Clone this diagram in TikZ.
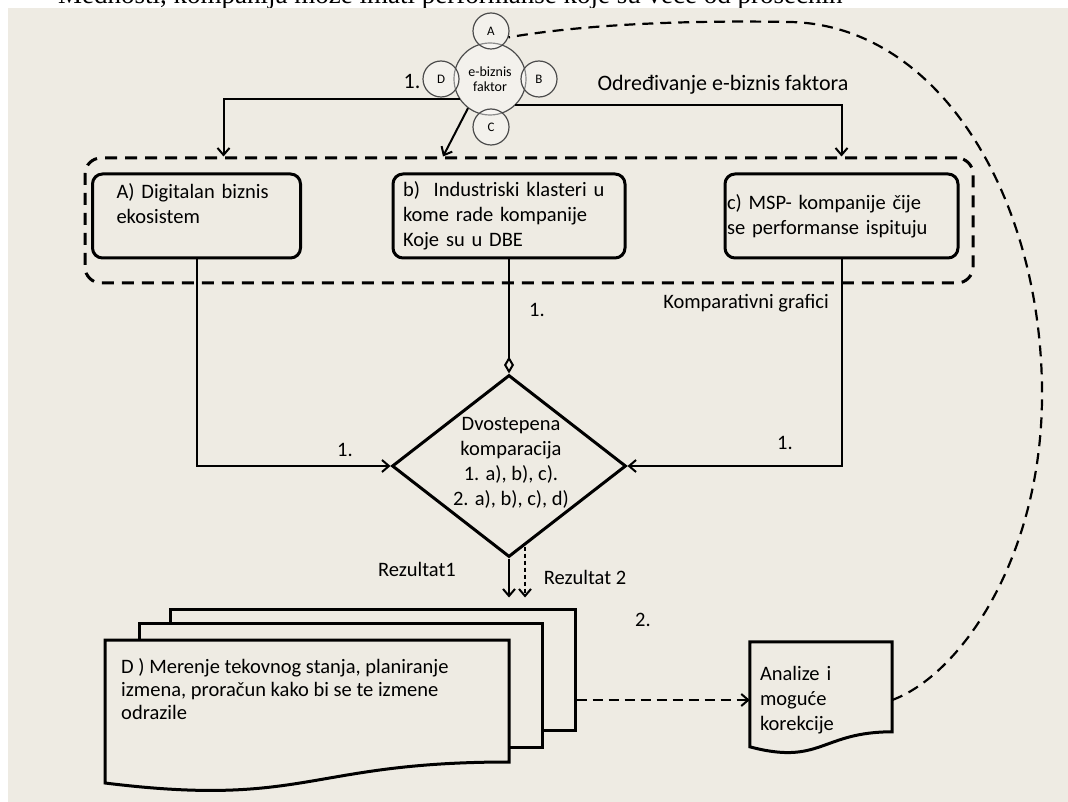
\documentclass[tikz,border=0pt]{standalone}
\usepackage{fontspec}
\setmainfont{Carlito}
\newfontfamily\serifni{Liberation Serif}
\usetikzlibrary{arrows.meta,shapes.geometric}

\definecolor{papir}{RGB}{238,235,227}

\tikzset{
  okvir/.style={draw, line width=3pt, rounded corners=10pt, minimum height=84pt, align=left, inner ysep=0pt},
  veza/.style={line width=2pt, -{Straight Barb[length=7pt,width=12pt]}},
  isprek/.style={dash pattern=on 10pt off 6pt},
  krug/.style={circle, draw=black!70, line width=1.2pt, fill=white, fill opacity=0.35, text opacity=1, inner sep=0pt, minimum size=36pt, font=\fontsize{13}{15}\selectfont},
  oznaka/.style={inner sep=0pt},
  stranica/.style={draw, line width=3pt, fill=papir},
}

\begin{document}
\begin{tikzpicture}[x=1pt, y=-1pt, font=\fontsize{20.5}{25}\selectfont]
\useasboundingbox (0,0) rectangle (1068,802);
\fill[white] (0,0) rectangle (1068,802);
% red teksta iznad, vidi se samo donji deo
\node[oznaka, anchor=base west, font=\serifni\fontsize{27}{30}\selectfont] (gore) at (58,3.5)
  {Međnosti, kompanija može imati performanse koje su veće od prosečnih};
\fill[papir] (8,8) rectangle (1068,802);

% e-biznis faktor i cetiri kruga oko njega
\node[krug, minimum size=72pt, align=center, font=\fontsize{14}{15}\selectfont] (ebf) at (490,79) {e-biznis\\faktor};
\node[krug] (fa) at (491,31) {A};
\node[krug] (fb) at (539,79) {B};
\node[krug] (fc) at (491,127) {C};
\node[krug] (fd) at (441,79) {D};
\node[oznaka, font=\fontsize{22}{25}\selectfont] (n1) at (412,82) {1.};
\node[oznaka, font=\fontsize{22}{25}\selectfont] (odr) at (723,85) {Određivanje e-biznis faktora};

% tri kategorije za poredjenje
\node[okvir, text width=160pt, inner xsep=24pt] (dbe) at (196.5,216) {A) Digitalan biznis\\ekosistem\\~};
\node[okvir, text width=212pt, inner xsep=10pt] (ind) at (509,216) {b)\ \ Industriski klasteri u\\kome rade kompanije\\Koje su u DBE};
\node[okvir, text width=229pt, inner xsep=2pt] (msp) at (841.5,216) {c) MSP- kompanije čije\\se performanse ispituju};
\node[draw, line width=3pt, dash pattern=on 12pt off 8pt, rounded corners=16pt, minimum width=888pt, minimum height=125pt] (grupa) at (529,220.5) {};
\node[oznaka] (graf) at (746,303) {Komparativni grafici};

\coordinate (ulA) at ([xshift=27pt]dbe.north);
\coordinate (ulB) at ([xshift=-66pt]ind.north);
\draw[veza] (ebf.214) -| (ulA |- grupa.north);
\draw[veza] (ebf.233) -- (ulB |- grupa.north);
\draw[veza] (ebf.314) -| (msp.north |- grupa.north);

% dvostepena komparacija
\node[diamond, draw, line width=3pt, minimum width=234pt, minimum height=182pt, inner sep=0pt] (cmp) at (509,466) {};
\node[oznaka, align=center] (cmpt) at (511,463) {Dvostepena\\komparacija\\1. a), b), c).\\2. a), b), c), d)};
\node[oznaka] (n2) at (537,310) {1.};
\node[oznaka] (n3) at (345,450) {1.};
\node[oznaka] (n4) at (785,443) {1.};
\draw[veza] (dbe.south) |- (cmp.west);
\draw[line width=2pt, -{Diamond[open,length=17pt,width=10pt]}] (ind.south) -- (cmp.north);
\draw[veza] (msp.south) |- (cmp.east);

% D) vise dokumenata
\node[stranica, minimum width=405pt, minimum height=121pt] (p3) at (372.5,669.5) {};
\node[stranica, minimum width=403pt, minimum height=124pt] (p2) at (340.5,685) {};
\draw[stranica] (105,640) -- (509,640) -- (509,762) .. controls (307,762) and (307,808) .. (105,783) -- cycle;
\node[oznaka, anchor=north west, align=left, font=\fontsize{20.5}{23}\selectfont] (mjer) at (121,658)
  {D ) Merenje tekovnog stanja, planiranje\\ izmena, proračun kako bi se te izmene\\ odrazile};

\coordinate (r2) at ([xshift=16pt,yshift=12pt]cmp.south);
\draw[veza, shorten >=10pt] (cmp.south) -- (cmp.south |- p3.north);
\draw[veza, dash pattern=on 4pt off 3pt, shorten >=10pt] (r2) -- (r2 |- p3.north);
\node[oznaka] (rz1) at (417,569) {Rezultat1};
\node[oznaka] (rz2) at (585,577) {Rezultat 2};
\node[oznaka] (n5) at (643,620) {2.};

% analize i korekcije
\node[oznaka, text width=122pt, inner xsep=10pt, align=left, minimum height=116pt] (kor) at (821,700) {Analize i\\moguće\\korekcije};
\draw[line width=3pt] (kor.north west) -- (kor.north east) -- ([yshift=-90pt]kor.north east)
  .. controls ([yshift=-90pt]kor.north) and ([yshift=-124pt]kor.north) .. ([yshift=-105pt]kor.north west) -- cycle;

\draw[veza, isprek] (p3.east |- kor.west) -- (kor.west);
\draw[line width=2.2pt, dash pattern=on 11pt off 7pt] (kor.east) .. controls (960,675) and (1040,560) .. (1042,400)
  .. controls (1044,200) and (940,25) .. (790,22) .. controls (680,20) and (580,25) .. (fa.-20);
\end{tikzpicture}
\end{document}
